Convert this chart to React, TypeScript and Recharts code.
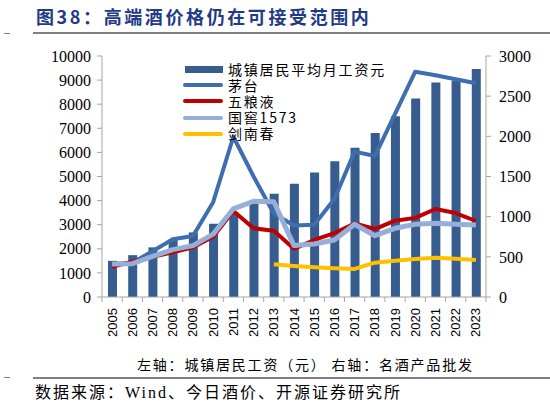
import React from 'react';
import { ComposedChart, Bar, Line, XAxis, YAxis } from 'recharts';

const years = ['2005', '2006', '2007', '2008', '2009', '2010', '2011', '2012', '2013', '2014', '2015', '2016', '2017', '2018', '2019', '2020', '2021', '2022', '2023'];
const wage = [1500, 1735, 2060, 2400, 2680, 3040, 3520, 3880, 4280, 4700, 5170, 5630, 6190, 6810, 7500, 8240, 8900, 8970, 9460];
const maotai = [410, 427, 570, 720, 760, 1180, 1995, 1500, 1040, 890, 900, 1220, 1810, 1755, 2280, 2805, 2760, 2710, 2660];
const wuliangye = [377, 440, 500, 555, 620, 750, 1070, 855, 825, 600, 710, 795, 915, 846, 950, 985, 1095, 1045, 946];
const guojiao = [411, 415, 505, 590, 640, 782, 1098, 1192, 1185, 640, 660, 710, 905, 763, 855, 905, 917, 905, 896];
const jiannanchun = [null, null, null, null, null, null, null, null, 407, 386, 370, 357, 349, 427, 452, 473, 489, 477, 461];

const leftTicks = [0, 1000, 2000, 3000, 4000, 5000, 6000, 7000, 8000, 9000, 10000];
const rightTicks = [0, 500, 1000, 1500, 2000, 2500, 3000];

const data = years.map((year, i) => ({
  year,
  wage: wage[i],
  maotai: maotai[i],
  wuliangye: wuliangye[i],
  guojiao: guojiao[i],
  jiannanchun: jiannanchun[i],
}));

const legendItems = [
  { name: '城镇居民平均月工资元', color: '#375D8F', bar: true },
  { name: '茅台', color: '#3F6EAF' },
  { name: '五粮液', color: '#C00000' },
  { name: '国窖1573', color: '#95AFD9' },
  { name: '剑南春', color: '#FFC000' },
];

const cjk = '"Noto Sans CJK SC", sans-serif';
const serif = '"Liberation Serif", "Noto Sans CJK SC", serif';
const step = 384 / years.length;

const YearTick = (props: any) => {
  const { x, y, payload, index } = props;
  return (
    <g>
      <line x1={x - step / 2} y1={y - 11} x2={x - step / 2} y2={y - 6} stroke="#A6A6A6" />
      {index === years.length - 1 && (
        <line x1={x + step / 2} y1={y - 11} x2={x + step / 2} y2={y - 6} stroke="#A6A6A6" />
      )}
      <text
        x={x}
        y={y}
        transform={`rotate(-90 ${x} ${y})`}
        textAnchor="end"
        dy="0.35em"
        fontSize={13}
        fontFamily='"Liberation Sans", Arial, sans-serif'
        fill="#000"
      >
        {payload.value}
      </text>
    </g>
  );
};

export default function App() {
  return (
    <div style={{ position: 'absolute', left: 0, top: 0, width: 550, height: 407, background: '#fff', overflow: 'hidden' }}>
      <div style={{ position: 'absolute', left: 36, top: 3, fontFamily: cjk, fontWeight: 700, fontSize: 18, letterSpacing: 2.6, color: '#1F3A86', whiteSpace: 'nowrap' }}>
        图38：高端酒价格仍在可接受范围内
      </div>
      <div style={{ position: 'absolute', left: 4, top: 33, width: 6, height: 1, background: '#808080' }} />
      <div style={{ position: 'absolute', left: 33, top: 32, width: 517, height: 2, background: '#808080' }} />

      <ComposedChart
        width={550}
        height={407}
        data={data}
        margin={{ top: 56, right: 4, left: 2, bottom: 60 }}
        style={{ position: 'absolute', left: 0, top: 0 }}
      >
        <XAxis
          dataKey="year"
          height={50}
          interval={0}
          tickLine={false}
          tickSize={5}
          tickMargin={6}
          axisLine={{ stroke: '#A6A6A6' }}
          tick={<YearTick />}
        />
        <YAxis
          yAxisId="left"
          width={100}
          domain={[0, 10000]}
          ticks={leftTicks}
          interval={0}
          tickSize={5}
          tickMargin={6}
          axisLine={{ stroke: '#A6A6A6' }}
          tickLine={{ stroke: '#A6A6A6' }}
          tick={{ fill: '#000', fontSize: 16, fontFamily: serif }}
        />
        <YAxis
          yAxisId="right"
          orientation="right"
          width={60}
          domain={[0, 3000]}
          ticks={rightTicks}
          interval={0}
          tickSize={5}
          tickMargin={8}
          axisLine={{ stroke: '#A6A6A6' }}
          tickLine={{ stroke: '#A6A6A6' }}
          tick={{ fill: '#000', fontSize: 16, fontFamily: serif }}
        />
        <Bar yAxisId="left" dataKey="wage" fill="#375D8F" barSize={9} isAnimationActive={false} />
        <Line yAxisId="right" dataKey="maotai" stroke="#3F6EAF" strokeWidth={4} dot={false} strokeLinejoin="round" isAnimationActive={false} />
        <Line yAxisId="right" dataKey="wuliangye" stroke="#C00000" strokeWidth={4} dot={false} strokeLinejoin="round" isAnimationActive={false} />
        <Line yAxisId="right" dataKey="guojiao" stroke="#95AFD9" strokeWidth={5} dot={false} strokeLinejoin="round" isAnimationActive={false} />
        <Line yAxisId="right" dataKey="jiannanchun" stroke="#FFC000" strokeWidth={4} dot={false} strokeLinejoin="round" isAnimationActive={false} />
      </ComposedChart>

      <div style={{ position: 'absolute', left: 183, top: 61 }}>
        {legendItems.map((item) => (
          <div key={item.name} style={{ display: 'flex', alignItems: 'center', height: 16.2 }}>
            <div
              style={{
                width: item.bar ? 38 : 40,
                marginLeft: item.bar ? 2 : 0,
                height: item.bar ? 7 : 4,
                borderRadius: item.bar ? 0 : 2,
                background: item.color,
              }}
            />
            <span style={{ marginLeft: 5, fontFamily: cjk, fontSize: 14, letterSpacing: 1.8, color: '#000', whiteSpace: 'nowrap', lineHeight: '15px' }}>
              {item.name}
            </span>
          </div>
        ))}
      </div>

      <div style={{ position: 'absolute', left: 137, top: 354, fontFamily: cjk, fontSize: 14, letterSpacing: 1.8, color: '#000', whiteSpace: 'nowrap', lineHeight: '20px' }}>
        左轴：城镇居民工资（元） 右轴：名酒产品批发
      </div>
      <div style={{ position: 'absolute', left: 4, top: 377, width: 6, height: 1, background: '#808080' }} />
      <div style={{ position: 'absolute', left: 33, top: 376.5, width: 517, height: 2, background: '#808080' }} />
      <div style={{ position: 'absolute', left: 35, top: 382, fontFamily: serif, fontSize: 16, letterSpacing: 2, color: '#000', whiteSpace: 'nowrap', lineHeight: '22px' }}>
        数据来源：Wind、今日酒价、开源证券研究所
      </div>
    </div>
  );
}
